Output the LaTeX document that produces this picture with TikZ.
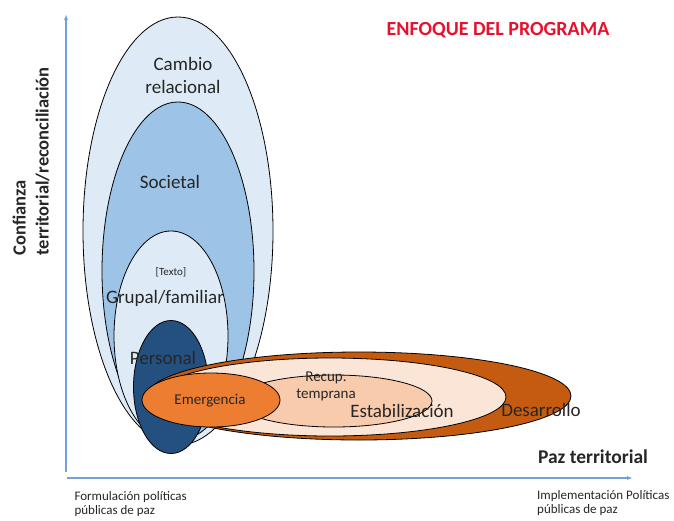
\documentclass[tikz,border=0pt]{standalone}
\usepackage{fontspec}
\setmainfont{Carlito}
\usetikzlibrary{shapes.geometric,arrows.meta}
\definecolor{azulclaro}{HTML}{DEEBF7}
\definecolor{azulmedio}{HTML}{9DC3E6}
\definecolor{azuloscuro}{HTML}{24507F}
\definecolor{ejeazul}{HTML}{6FA3D8}
\definecolor{cafe}{HTML}{C55A11}
\definecolor{durazno}{HTML}{FBE5D6}
\definecolor{salmon}{HTML}{F8CBAD}
\definecolor{naranja}{HTML}{ED7D31}
\definecolor{rojo}{HTML}{E8112D}
\begin{document}
\begin{tikzpicture}[x=1pt, y=-1pt,
  zona/.style={ellipse, draw=black, line width=0.8pt, inner sep=0pt},
  eje/.style={draw=ejeazul, line width=1.1pt, -{Latex[length=6pt,width=4pt]}}]
        \tikzstyle{every node}=[font=\fontsize{19}{23}\selectfont, text=black!85]
        \useasboundingbox (0,0) rectangle (674,520);

          % ejes
          \coordinate (o1) at (66,472);
          \coordinate (yt) at (66,14);
          \coordinate (o2) at (67,478);
          \coordinate (xt) at (633,478);
          \draw[eje] (o1) -- (yt);
          \draw[eje] (o2) -- (xt);

          % cambio relacional
          \node[zona, fill=azulclaro, minimum width=190, minimum height=428] (cambio) at (178,231) {};
          \node[zona, fill=azulmedio, minimum width=152, minimum height=338] (societal) at (178,271) {};
          \node[zona, fill=azulclaro, minimum width=114, minimum height=210] (grupal) at (171,336) {};
          \node[zona, fill=azuloscuro, minimum width=75, minimum height=133] (personal) at (171,387) {};

          % paz territorial
          \node[zona, fill=cafe, minimum width=424, minimum height=88] (desarrollo) at (359,396) {};
          \node[zona, fill=durazno, minimum width=352, minimum height=78] (estab) at (330,397) {};
          \node[zona, fill=salmon, minimum width=196, minimum height=52] (recup) at (334,401) {};
          \node[zona, fill=naranja, minimum width=138, minimum height=54] (emergencia) at (211,400) {};

          % textos
          \node[align=center] (t1) at (183,75) {Cambio\\relacional};
          \node (t2) at (170,182) {Societal};
          \node[font=\fontsize{11}{13}\selectfont] (t3) at (171,272) {[Texto]};
          \node (t4) at (165,298) {Grupal/familiar};
          \node (t5) at (163,358) {Personal};
          \node[font=\fontsize{15}{17}\selectfont] (t6) at (210,401) {Emergencia};
          \node[font=\fontsize{15}{17}\selectfont, align=center] (t7) at (326,386) {Recup.\\temprana};
          \node (t8) at (402,411) {Estabilización};
          \node (t9) at (541,410) {Desarrollo};
          \node[font=\fontsize{19.5}{23}\selectfont\bfseries] (t10) at (593,457) {Paz territorial};
          \node[font=\fontsize{20}{24}\selectfont\bfseries, text=rojo] (t11) at (498,30) {ENFOQUE DEL PROGRAMA};
          \node[font=\fontsize{18.5}{23}\selectfont\bfseries, rotate=90, align=left, anchor=west] (t12) at (31,259) {Confianza\\territorial/reconciliación};
          \node[font=\fontsize{13}{14}\selectfont, align=left, anchor=north west] (t13) at (71,488) {Formulación políticas\\públicas de paz};
          \node[font=\fontsize{13}{14}\selectfont, align=left, anchor=south west, inner sep=0pt] (t14) at (537,516) {Implementación Políticas\\públicas de paz};

\end{tikzpicture}
\end{document}
